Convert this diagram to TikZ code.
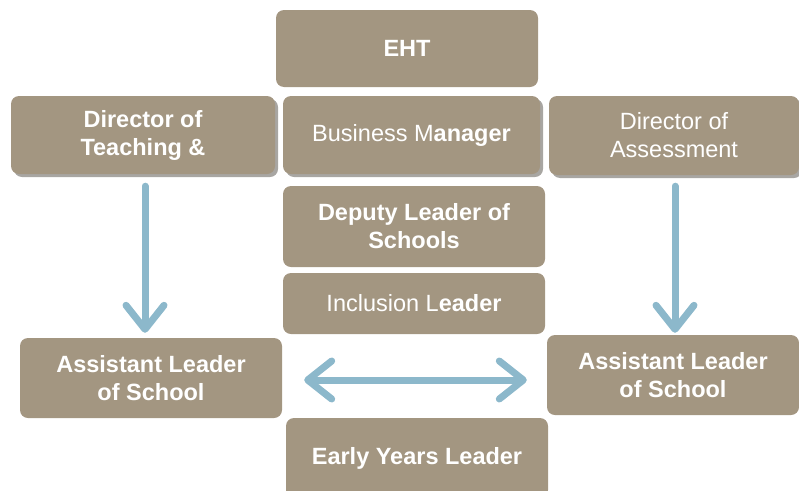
\documentclass[tikz,border=0pt]{standalone}
\usepackage{fontspec}
\setmainfont{Liberation Sans}
\usetikzlibrary{arrows.meta,shadows}
\definecolor{boxc}{HTML}{A39681}
\definecolor{shadowc}{HTML}{A8A6A2}
\definecolor{arrowc}{HTML}{8CB8CB}
\tikzset{
  box/.style={rectangle, rounded corners=8pt, fill=boxc, text=white, align=center,
    inner sep=0pt, font=\fontsize{23.5}{28}\selectfont},
  bbox/.style={box, font=\fontsize{23.5}{28}\selectfont\bfseries},
  shad/.style={general shadow={fill=shadowc, shadow xshift=3pt, shadow yshift=-3pt}},
  flow/.style={draw=arrowc, line width=7pt, line cap=round,
    -{Straight Barb[length=24pt, width=38pt, round]}},
  flow2/.style={draw=arrowc, line width=7pt,
    {Straight Barb[length=24pt, width=38pt, round]}-{Straight Barb[length=24pt, width=38pt, round]}}
}
\begin{document}
\begin{tikzpicture}[x=1pt,y=1pt]
\useasboundingbox (0,0) rectangle (799,-490);
\begin{scope}
\clip (0,0) rectangle (799,-490);
\node[bbox, minimum width=262pt, minimum height=77pt] (eht) at (407,-48.5) {EHT};
\node[bbox, shad, minimum width=264pt, minimum height=78pt] (dt) at (143,-135) {Director of\\Teaching \&};
\node[box, shad, minimum width=257pt, minimum height=78pt] (bm) at (411.5,-135) {Business M\textbf{anager}};
\node[box, shad, minimum width=250pt, minimum height=79pt] (da) at (674,-135.5) {Director of\\Assessment};
\node[bbox, minimum width=262pt, minimum height=81pt] (dl) at (414,-226.5) {Deputy Leader of\\Schools};
\node[box, minimum width=262pt, minimum height=61pt] (il) at (414,-303.5) {Inclusion L\textbf{eader}};
\node[bbox, minimum width=262pt, minimum height=80pt] (al) at (151,-378) {Assistant Leader\\of School};
\node[bbox, minimum width=252pt, minimum height=80pt] (ar) at (673,-375) {Assistant Leader\\of School};
\node[bbox, minimum width=262pt, minimum height=80pt] (ey) at (417,-458) {Early Years Leader};
\draw[flow] ([xshift=2pt,yshift=-12pt]dt.south) -- ([xshift=-6pt,yshift=5pt]al.north);
\draw[flow] ([xshift=1pt,yshift=-11pt]da.south) -- ([xshift=2pt,yshift=2pt]ar.north);
\draw[flow2] ([xshift=22pt,yshift=-2pt]al.east) -- ([xshift=-20pt,yshift=-5pt]ar.west);
\end{scope}
\end{tikzpicture}
\end{document}
